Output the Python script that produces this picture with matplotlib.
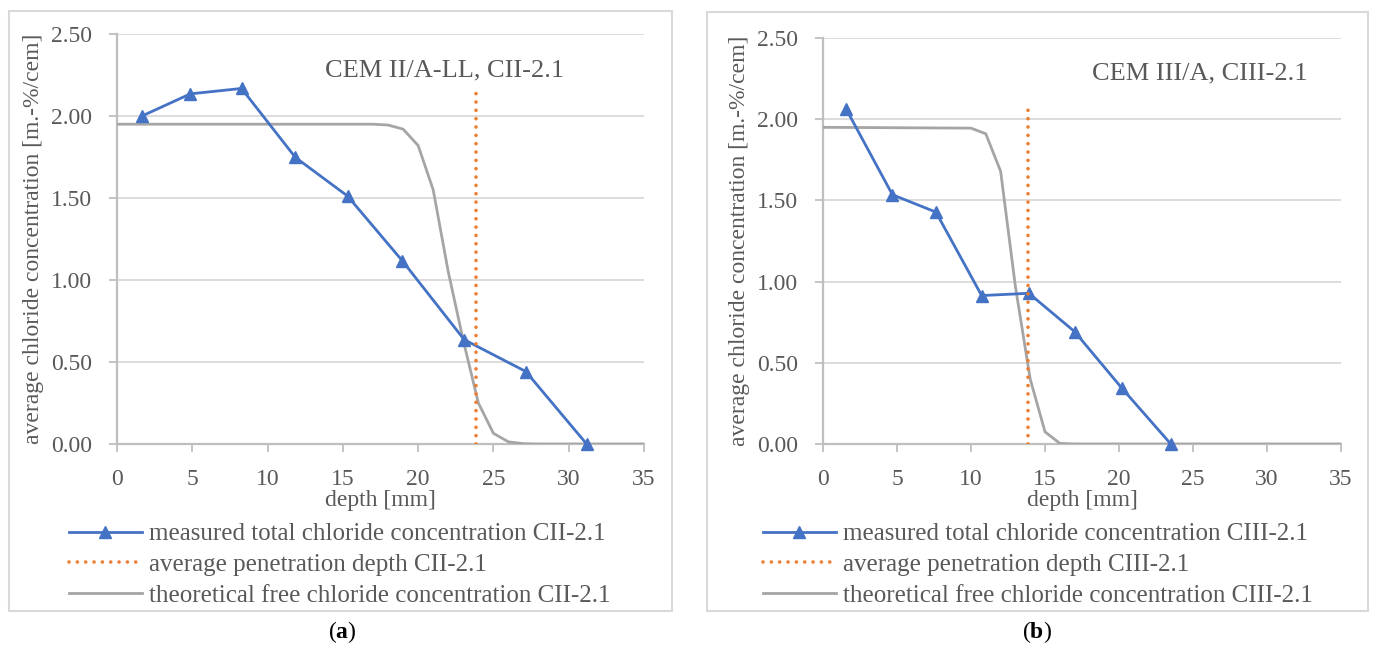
import matplotlib
matplotlib.use("Agg")
import matplotlib.pyplot as plt
from matplotlib.patches import Rectangle

plt.rcParams["font.family"] = ["Liberation Serif", "DejaVu Serif"]
plt.rcParams["mathtext.fontset"] = "custom"
plt.rcParams["mathtext.bf"] = "Liberation Serif:bold"
plt.rcParams["mathtext.rm"] = "Liberation Serif"

# panel (a) CEM II/A-LL
depth_a = [1.66, 4.87, 8.27, 11.84, 15.31, 18.95, 23.06, 27.15, 31.19]
meas_a = [2.00, 2.135, 2.168, 1.748, 1.512, 1.117, 0.636, 0.442, 0.0]
pen_a = 23.82
pen_top_a = 2.16
theo_x_a = [0, 17, 18, 19, 20, 21, 22, 23, 24, 25, 26, 27, 28, 35]
theo_a = [1.95, 1.95, 1.945, 1.92, 1.82, 1.55, 1.05, 0.63, 0.25, 0.065, 0.013, 0.002, 0.0, 0.0]

# panel (b) CEM III/A
depth_b = [1.55, 4.69, 7.63, 10.72, 13.91, 17.0, 20.2, 23.5]
meas_b = [2.065, 1.535, 1.428, 0.914, 0.928, 0.692, 0.343, 0.0]
pen_b = 13.86
pen_top_b = 2.08
theo_x_b = [0, 10, 11, 12, 13, 14, 15, 16, 17, 35]
theo_b = [1.95, 1.945, 1.91, 1.68, 0.97, 0.40, 0.075, 0.004, 0.0, 0.0]

yticks = [0.0, 0.5, 1.0, 1.5, 2.0, 2.5]
xticks = [0, 5, 10, 15, 20, 25, 30, 35]

TXT = "#595959"
FS = 17
W, H = 1375, 651

fig = plt.figure(figsize=(W / 100, H / 100), dpi=100)


def px(x0, y0, x1, y1):
    return [x0 / W, 1 - y1 / H, (x1 - x0) / W, (y1 - y0) / H]


def panel(rect, box, depth, meas, pen, pen_top, tx, ty, code, title, title_x, leg_x, cap, cap_x):
    fig.add_artist(Rectangle((box[0] / W, 1 - box[3] / H), (box[2] - box[0]) / W,
                             (box[3] - box[1]) / H, transform=fig.transFigure,
                             fill=False, edgecolor="#d9d9d9", lw=1.5))
    ax = fig.add_axes(px(*rect))
    ax.plot(tx, ty, color="#a5a5a5", lw=2.0, zorder=3,
            label=f"theoretical free chloride concentration {code}")
    ax.plot(depth, meas, color="#4472c4", lw=2.0, marker="^", ms=9, zorder=4,
            clip_on=False, label=f"measured total chloride concentration {code}")
    ax.plot([pen, pen], [0, pen_top], color="#ed7d31", lw=2.6,
            linestyle=(0, (0.01, 2.3)), dash_capstyle="round", zorder=5,
            label=f"average penetration depth {code}")
    ax.set_xlim(0, 35)
    ax.set_ylim(0, 2.5)
    ax.set_xticks(xticks)
    ax.set_yticks(yticks)
    ax.set_yticklabels([f"{v:.2f}" for v in yticks])
    ax.grid(axis="y", color="#d9d9d9", lw=1.3)
    ax.set_axisbelow(True)
    for s in ["top", "right"]:
        ax.spines[s].set_visible(False)
    for s in ["left", "bottom"]:
        ax.spines[s].set_color("#bfbfbf")
        ax.spines[s].set_linewidth(1.6)
    ax.tick_params(axis="y", direction="out", length=6, width=1.3, color="#bfbfbf",
                   labelsize=FS, labelcolor=TXT, pad=12)
    ax.tick_params(axis="x", direction="out", length=6, width=1.3, color="#bfbfbf",
                   labelsize=FS, labelcolor=TXT, pad=12)
    ax.set_xlabel("depth [mm]", fontsize=FS, color=TXT, labelpad=0)
    ax.set_ylabel("average chloride concentration [m.-%/cem]", fontsize=FS, color=TXT, labelpad=5)
    ax.text(title_x, 2.28, title, fontsize=19, color=TXT, ha="left", va="center")
    h, l = ax.get_legend_handles_labels()
    order = [1, 2, 0]
    fig.legend([h[i] for i in order], [l[i] for i in order], loc="upper left",
               bbox_to_anchor=(leg_x / W, 1 - 523 / H), frameon=False, fontsize=18,
               labelcolor=TXT, borderpad=0, handlelength=2.9, handletextpad=0.3,
               labelspacing=0.32, borderaxespad=0)
    fig.text(cap_x / W, 1 - 632 / H, cap, fontsize=FS, color="black", ha="center", va="center")
    return ax


panel((117, 34, 644, 444), (9, 11, 672, 611), depth_a, meas_a, pen_a, pen_top_a,
      theo_x_a, theo_a, "CII-2.1", "CEM II/A-LL, CII-2.1", 13.8, 69, r"($\mathbf{a}$)", 342)
panel((823, 38, 1341, 444), (707, 12, 1368, 611), depth_b, meas_b, pen_b, pen_top_b,
      theo_x_b, theo_b, "CIII-2.1", "CEM III/A, CIII-2.1", 18.2, 763, r"($\mathbf{b}$)", 1037)

fig.savefig("out.png", dpi=100)
